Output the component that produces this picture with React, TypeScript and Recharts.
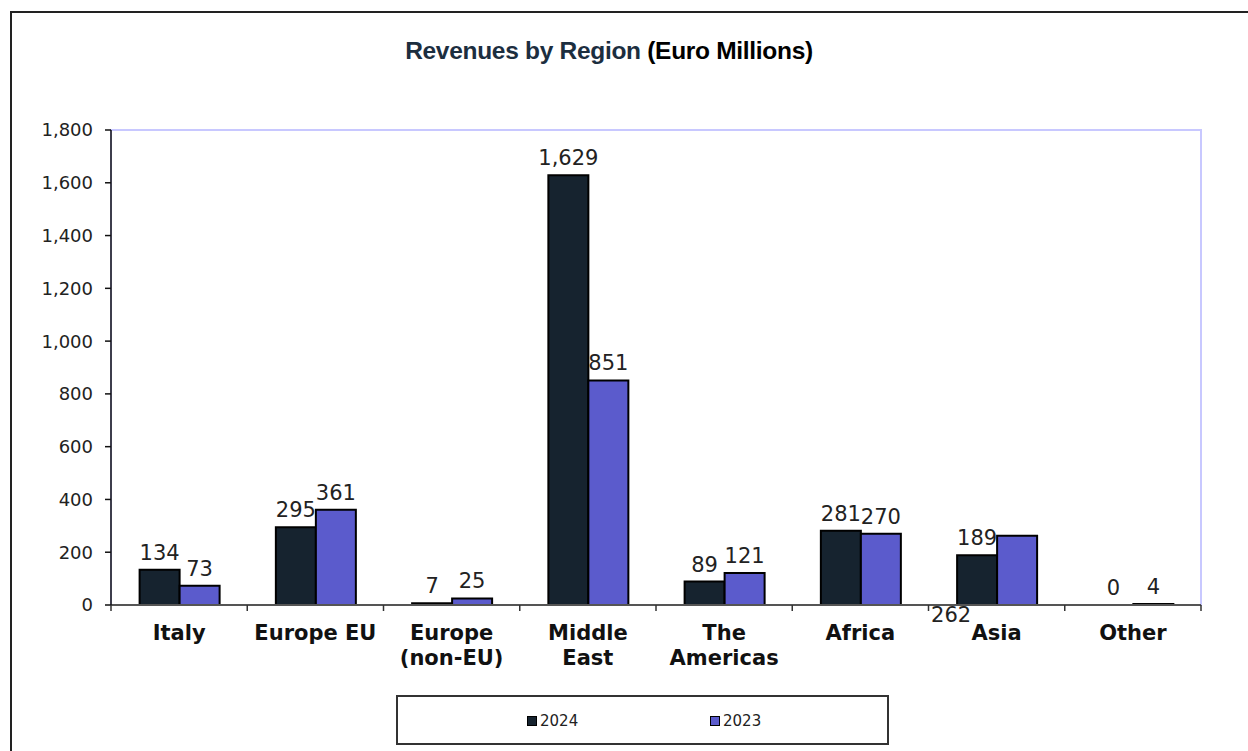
import { Bar, BarChart, LabelList, ReferenceArea, XAxis, YAxis } from "recharts";

// Revenues by region, 2024 vs 2023 (EUR m)
const regions = ["Italy", "Europe EU", "Europe\n(non-EU)", "Middle\nEast", "The\nAmericas", "Africa", "Asia", "Other"];
const rev2024 = [134, 295, 7, 1629, 89, 281, 189, 0];
const rev2023 = [73, 361, 25, 851, 121, 270, 262, 4];
const yTicks = [0, 200, 400, 600, 800, 1000, 1200, 1400, 1600, 1800];

const data = regions.map((region, i) => ({ region, y2024: rev2024[i], y2023: rev2023[i] }));

const W = 1248;
const H = 751;
const PLOT_LEFT = 111;
const PLOT_RIGHT = 1201;
const BAND = (PLOT_RIGHT - PLOT_LEFT) / regions.length;

const FONT = "'DejaVu Sans', Verdana, sans-serif";
const C2024 = "#16232f";
const C2023 = "#5b5bcc";

const fmt = (v: number) => v.toLocaleString("en-US");

function CategoryTick(props: any) {
  const { x, y, payload, index } = props;
  const lines = String(payload.value).split("\n");
  const left = x - BAND / 2;
  return (
    <g>
      <line x1={left} y1={y} x2={left} y2={y + 6} stroke="#333" strokeWidth={1.5} />
      {index === regions.length - 1 && (
        <line x1={x + BAND / 2} y1={y} x2={x + BAND / 2} y2={y + 6} stroke="#333" strokeWidth={1.5} />
      )}
      {lines.map((l, i) => (
        <text
          key={i}
          x={x}
          y={y + 35 + i * 25}
          textAnchor="middle"
          fontFamily={FONT}
          fontWeight="bold"
          fontSize={21}
          fill="#111"
        >
          {l}
        </text>
      ))}
    </g>
  );
}

function valueLabel(series: string) {
  return (props: any) => {
    const { x, y, width, height, value, index } = props;
    // Excel dropped the Asia 2023 label under the axis, left of the group
    const odd = series === "2023" && index === 6;
    const tx = odd ? x + width / 2 - 66 : x + width / 2;
    const ty = odd ? y + height + 17 : y - 10;
    return (
      <text x={tx} y={ty} textAnchor="middle" fontFamily={FONT} fontSize={21} fill="#222">
        {fmt(value)}
      </text>
    );
  };
}

// zero-height 2024 bars get no label of their own, so draw it beside the 2023 bar
function zeroLabel(props: any) {
  const { x, y, width, height, value } = props;
  if (value !== 0) return null;
  return (
    <text x={x - width / 2} y={y + height - 10} textAnchor="middle" fontFamily={FONT} fontSize={21} fill="#222">
      {fmt(value)}
    </text>
  );
}

function LegendBox() {
  const item = (left: number, color: string, label: string) => (
    <div style={{ position: "absolute", left, top: 713, display: "flex", alignItems: "center" }}>
      <span
        style={{
          display: "inline-block",
          width: 8,
          height: 8,
          background: color,
          border: "1.5px solid #000",
          marginRight: 3,
        }}
      />
      <span style={{ fontFamily: FONT, fontSize: 15, color: "#222", lineHeight: "16px" }}>{label}</span>
    </div>
  );
  return (
    <>
      <div
        style={{
          position: "absolute",
          left: 396,
          top: 695,
          width: 489,
          height: 46,
          border: "2px solid #333",
          background: "#fff",
        }}
      />
      {item(527, C2024, "2024")}
      {item(710, C2023, "2023")}
    </>
  );
}

export default function App() {
  return (
    <div style={{ position: "absolute", left: 0, top: 0, width: W, height: H, overflow: "hidden", background: "#fff" }}>
      <div
        style={{
          position: "absolute",
          left: 10,
          top: 11,
          width: 1400,
          height: 900,
          borderLeft: "2px solid #222",
          borderTop: "2px solid #222",
        }}
      />
      <div
        style={{
          position: "absolute",
          left: 0,
          top: 37,
          width: 1218,
          textAlign: "center",
          fontFamily: "'Liberation Sans', Arial, sans-serif",
          fontWeight: "bold",
          fontSize: 24.5,
          lineHeight: "28px",
          letterSpacing: -0.3,
        }}
      >
        <span style={{ color: "#1c2e3f" }}>Revenues by Region </span>
        <span style={{ color: "#000" }}>(Euro Millions)</span>
      </div>
      <div style={{ position: "absolute", left: 0, top: 0 }}>
        <BarChart
          width={W}
          height={H}
          data={data}
          margin={{ top: 130, right: W - PLOT_RIGHT, bottom: 0, left: 0 }}
          barCategoryGap="21%"
          barGap={0}
        >
          <ReferenceArea y1={0} y2={1800} fill="none" stroke="#c8c8ff" strokeWidth={2} ifOverflow="visible" />
          <XAxis
            dataKey="region"
            height={146}
            interval={0}
            tickLine={false}
            tickSize={0}
            tickMargin={0}
            tick={<CategoryTick />}
            axisLine={{ stroke: "#555", strokeWidth: 2 }}
          />
          <YAxis
            width={PLOT_LEFT}
            domain={[0, 1800]}
            ticks={yTicks}
            interval={0}
            tickFormatter={fmt}
            tickSize={6}
            tickMargin={12}
            tick={{ fontFamily: FONT, fontSize: 18, fill: "#222" }}
            tickLine={{ stroke: "#111", strokeWidth: 1.5 }}
            axisLine={{ stroke: "#111", strokeWidth: 1.5 }}
          />
          <Bar dataKey="y2024" name="2024" fill={C2024} stroke="#000" strokeWidth={2} isAnimationActive={false}>
            <LabelList dataKey="y2024" content={valueLabel("2024")} />
          </Bar>
          <Bar dataKey="y2023" name="2023" fill={C2023} stroke="#000" strokeWidth={2} isAnimationActive={false}>
            <LabelList dataKey="y2023" content={valueLabel("2023")} />
            <LabelList dataKey="y2024" content={zeroLabel} />
          </Bar>
        </BarChart>
      </div>
      <LegendBox />
    </div>
  );
}
